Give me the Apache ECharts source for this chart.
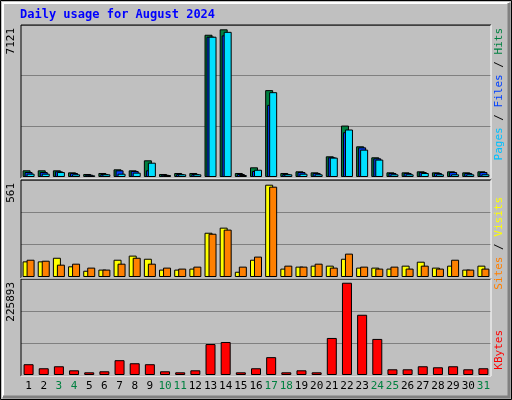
<!DOCTYPE html>
<html><head><meta charset="utf-8">
<script src="https://cdn.jsdelivr.net/npm/echarts@6/dist/echarts.min.js"></script>
<style>html,body{margin:0;padding:0;background:#c0c0c0}#c{width:512px;height:400px}</style>
</head><body><div id="c"></div>
<script>
const days = ['1','2','3','4','5','6','7','8','9','10','11','12','13','14','15','16','17','18','19','20','21','22','23','24','25','26','27','28','29','30','31'];
const weekend = [3,4,10,11,17,18,24,25,31];
const hits = [322,322,322,225,145,193,370,322,805,145,193,193,6860,7121,193,467,4190,193,274,225,998,2480,1480,950,225,225,274,225,274,225,274];
const files = [240,240,274,193,110,145,322,290,322,110,145,145,6765,6830,145,290,3480,145,240,193,950,2160,1430,900,193,193,240,193,240,193,240];
const pages = [160,160,240,130,80,130,160,210,690,95,130,130,6765,7000,95,350,4090,130,160,130,935,2290,1320,840,130,130,193,130,130,130,130];
const sites = [95,95,117,65,38,45,105,130,111,45,45,51,269,300,32,105,561,51,63,69,69,111,57,57,51,69,93,57,69,45,69];
const visits = [105,99,75,81,57,45,81,117,81,57,51,63,263,288,63,124,549,69,63,81,57,142,63,51,63,51,69,51,105,45,51];
const kbytes = [26400,16500,21400,11500,6600,9100,36300,28800,26400,9100,6600,11500,75800,80800,6600,16500,43700,6600,11500,6600,90700,225893,147500,88300,14000,14000,21400,18900,21400,14000,16500];
const maxHits = 7121, maxSites = 561, maxK = 225893;

const F = 'DejaVu Sans Mono';
const grids = [
  {left:21,width:470,top:25,height:152},
  {left:21,width:470,top:180,height:97},
  {left:21,width:470,top:279,height:96}
];
const tops = [maxHits*151/146.7, maxSites*97/92.3, maxK*95/91.3];
const xAxes = grids.map((g,i)=>({type:'category',gridIndex:i,data:days,
  axisLine:{show:false},axisTick:{show:false},
  axisLabel:{show:i===2,interval:0,fontFamily:F,fontSize:11,margin:6,
    color:(v)=>weekend.includes(+v)?'#008040':'#000'}}));
const yAxes = grids.map((g,i)=>({type:'value',gridIndex:i,min:0,max:tops[i],interval:tops[i]/3,
  axisLabel:{show:false},axisLine:{show:false},axisTick:{show:false},
  splitLine:{show:true,lineStyle:{color:'#808080',width:1}}}));
const bs = {borderColor:'#000',borderWidth:1};
const series = [
  {type:'bar',xAxisIndex:0,yAxisIndex:0,data:hits,barWidth:8,barGap:'-75%',itemStyle:Object.assign({color:'#008040'},bs)},
  {type:'bar',xAxisIndex:0,yAxisIndex:0,data:files,barWidth:8,barGap:'-75%',itemStyle:Object.assign({color:'#0040ff'},bs)},
  {type:'bar',xAxisIndex:0,yAxisIndex:0,data:pages,barWidth:8,barGap:'-75%',itemStyle:Object.assign({color:'#00e0ff'},bs)},
  {type:'bar',xAxisIndex:1,yAxisIndex:1,data:sites,barWidth:8,barGap:'-50%',itemStyle:Object.assign({color:'#ffff00'},bs)},
  {type:'bar',xAxisIndex:1,yAxisIndex:1,data:visits,barWidth:8,barGap:'-50%',itemStyle:Object.assign({color:'#ff8000'},bs)},
  {type:'bar',xAxisIndex:2,yAxisIndex:2,data:kbytes,barWidth:10,itemStyle:Object.assign({color:'#ff0000'},bs)}
];
function vtext(x,y,parts){
  const rich={};let s='';
  parts.forEach((p,i)=>{rich['p'+i]={fill:p[1]};s+='{p'+i+'|'+p[0]+'}';});
  return {type:'text',x:x,y:y,rotation:Math.PI/2,style:{text:s,rich:rich,font:'11px '+F,fill:'#000',align:'right',verticalAlign:'middle'}};
}
const graphic = [
  {type:'rect',shape:{x:0.5,y:0.5,width:511,height:399},style:{fill:'none',stroke:'#000',lineWidth:1}},
  {type:'polyline',shape:{points:[[3,397],[3,3],[509,3]]},style:{stroke:'#fff',lineWidth:2,fill:'none'}},
  {type:'polyline',shape:{points:[[509,3],[509,397],[3,397]]},style:{stroke:'#808080',lineWidth:3,fill:'none'}},
  {type:'text',x:20,y:9,style:{text:'Daily usage for August 2024',font:'bold 12px '+F,fill:'#0000ff'}},
  ...grids.map(g=>({type:'polyline',z:10,shape:{points:[[g.left,g.top+g.height+1],[g.left,g.top],[g.left+g.width,g.top]]},style:{stroke:'#000',lineWidth:1,fill:'none'}})),
  ...grids.map(g=>({type:'polyline',z:10,shape:{points:[[g.left+g.width,g.top],[g.left+g.width,g.top+g.height+1],[g.left,g.top+g.height+1]]},style:{stroke:'#fff',lineWidth:1,fill:'none'}})),
  {type:'text',x:17,y:28,rotation:Math.PI/2,style:{text:String(maxHits),font:'11px '+F,fill:'#000',align:'right',verticalAlign:'bottom'}},
  {type:'text',x:17,y:183,rotation:Math.PI/2,style:{text:String(maxSites),font:'11px '+F,fill:'#000',align:'right',verticalAlign:'bottom'}},
  {type:'text',x:17,y:282,rotation:Math.PI/2,style:{text:String(maxK),font:'11px '+F,fill:'#000',align:'right',verticalAlign:'bottom'}},
  vtext(499,28,[['Pages','#00c0ff'],[' / ','#000'],['Files','#0040ff'],[' / ','#000'],['Hits','#008040']]),
  vtext(499,197,[['Sites','#ff8000'],[' / ','#000'],['Visits','#ffff00']]),
  vtext(499,330,[['KBytes','#ff0000']])
];
const chart = echarts.init(document.getElementById('c'));
chart.setOption({animation:false,backgroundColor:'#c0c0c0',grid:grids,xAxis:xAxes,yAxis:yAxes,series:series,graphic:graphic});
</script></body></html>
